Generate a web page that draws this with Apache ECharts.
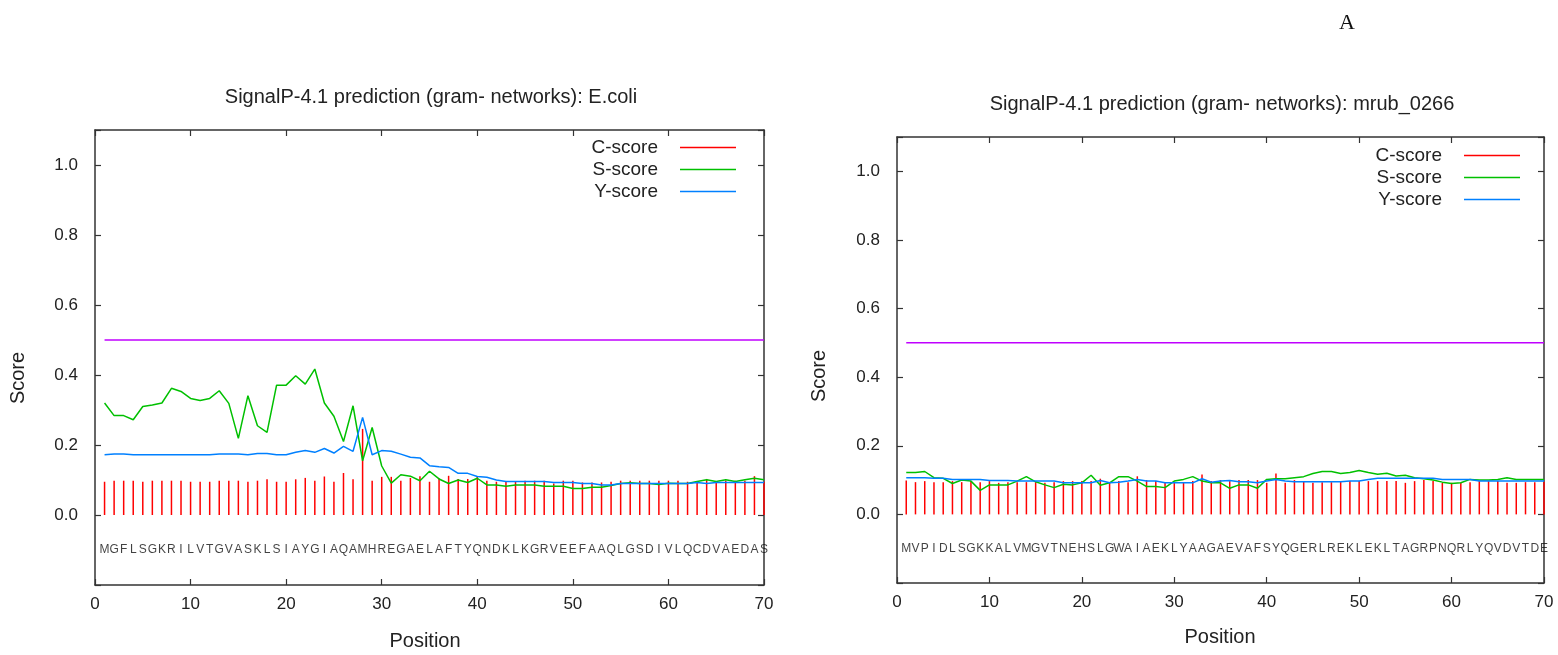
<!DOCTYPE html>
<html>
<head>
<meta charset="utf-8">
<script src="https://cdn.jsdelivr.net/npm/echarts@6/dist/echarts.min.js"></script>
<style>
  html, body { margin: 0; padding: 0; background: #fff; }
  #chart { width: 1558px; height: 655px; }
</style>
</head>
<body>
<div id="chart"></div>
<script>
// sequences (one residue per position 1..70)
var ecoliSeq = 'MGFLSGKRILVTGVASKLSIAYGIAQAMHREGAELAFTYQNDKLKGRVEEFAAQLGSDIVLQCDVAEDAS'.split('')
var mrubSeq = 'MVPIDLSGKKALVMGVTNEHSLGWAIAEKLYAAGAEVAFSYQGERLREKLEKLTAGRPNQRLYQVDVTDE'.split('')

// E.coli scores
var ecoliC = [
  0.095, 0.098, 0.098, 0.098, 0.095, 0.098, 0.098, 0.098, 0.098, 0.095,
  0.095, 0.095, 0.098, 0.098, 0.098, 0.095, 0.098, 0.102, 0.095, 0.095,
  0.102, 0.106, 0.098, 0.110, 0.095, 0.120, 0.102, 0.246, 0.098, 0.109,
  0.109, 0.098, 0.106, 0.111, 0.095, 0.105, 0.112, 0.103, 0.103, 0.109,
  0.098, 0.095, 0.095, 0.096, 0.098, 0.098, 0.098, 0.090, 0.098, 0.098,
  0.093, 0.093, 0.093, 0.095, 0.098, 0.098, 0.098, 0.098, 0.098, 0.098,
  0.098, 0.095, 0.095, 0.103, 0.095, 0.098, 0.098, 0.098, 0.111, 0.095
]
var ecoliS = [
  0.320, 0.284, 0.284, 0.272, 0.310, 0.314, 0.320, 0.362, 0.353, 0.333,
  0.327, 0.333, 0.355, 0.319, 0.219, 0.341, 0.255, 0.236, 0.371, 0.371,
  0.398, 0.374, 0.417, 0.320, 0.282, 0.210, 0.312, 0.155, 0.250, 0.140,
  0.091, 0.115, 0.111, 0.098, 0.125, 0.103, 0.090, 0.100, 0.093, 0.105,
  0.086, 0.086, 0.082, 0.086, 0.086, 0.086, 0.082, 0.082, 0.082, 0.076,
  0.076, 0.079, 0.079, 0.084, 0.090, 0.092, 0.090, 0.090, 0.087, 0.091,
  0.090, 0.090, 0.096, 0.101, 0.096, 0.101, 0.096, 0.101, 0.105, 0.101
]
var ecoliY = [
  0.172, 0.174, 0.174, 0.172, 0.172, 0.172, 0.172, 0.172, 0.172, 0.172,
  0.172, 0.172, 0.174, 0.174, 0.174, 0.172, 0.176, 0.176, 0.172, 0.172,
  0.179, 0.184, 0.179, 0.190, 0.177, 0.196, 0.182, 0.279, 0.172, 0.184,
  0.182, 0.174, 0.165, 0.163, 0.141, 0.138, 0.136, 0.119, 0.119, 0.110,
  0.108, 0.100, 0.096, 0.096, 0.096, 0.096, 0.096, 0.093, 0.093, 0.093,
  0.090, 0.090, 0.086, 0.086, 0.090, 0.090, 0.090, 0.090, 0.090, 0.090,
  0.090, 0.090, 0.093, 0.090, 0.093, 0.093, 0.093, 0.093, 0.093, 0.093
]

// mrub_0266 scores
var mrubC = [
  0.099, 0.094, 0.097, 0.094, 0.094, 0.097, 0.094, 0.097, 0.094, 0.097,
  0.092, 0.094, 0.094, 0.094, 0.094, 0.092, 0.094, 0.097, 0.097, 0.097,
  0.097, 0.104, 0.092, 0.097, 0.094, 0.111, 0.100, 0.097, 0.094, 0.094,
  0.094, 0.097, 0.116, 0.097, 0.100, 0.097, 0.100, 0.100, 0.100, 0.092,
  0.119, 0.092, 0.100, 0.097, 0.092, 0.094, 0.094, 0.097, 0.097, 0.097,
  0.097, 0.097, 0.097, 0.097, 0.092, 0.097, 0.100, 0.097, 0.092, 0.092,
  0.092, 0.094, 0.097, 0.097, 0.097, 0.092, 0.092, 0.094, 0.094, 0.095
]
var mrubS = [
  0.122, 0.122, 0.125, 0.107, 0.105, 0.090, 0.100, 0.097, 0.070, 0.086,
  0.086, 0.086, 0.097, 0.110, 0.095, 0.086, 0.078, 0.088, 0.086, 0.092,
  0.114, 0.085, 0.092, 0.110, 0.110, 0.097, 0.081, 0.081, 0.078, 0.097,
  0.102, 0.110, 0.097, 0.092, 0.092, 0.076, 0.086, 0.086, 0.076, 0.102,
  0.104, 0.104, 0.107, 0.110, 0.119, 0.125, 0.125, 0.119, 0.122, 0.128,
  0.122, 0.117, 0.120, 0.112, 0.114, 0.107, 0.104, 0.100, 0.094, 0.090,
  0.092, 0.102, 0.100, 0.100, 0.102, 0.107, 0.102, 0.102, 0.102, 0.102
]
var mrubY = [
  0.107, 0.107, 0.107, 0.105, 0.105, 0.102, 0.102, 0.102, 0.102, 0.099,
  0.099, 0.099, 0.097, 0.097, 0.097, 0.097, 0.097, 0.092, 0.092, 0.092,
  0.092, 0.099, 0.092, 0.094, 0.097, 0.102, 0.097, 0.097, 0.092, 0.092,
  0.092, 0.092, 0.104, 0.094, 0.097, 0.099, 0.095, 0.095, 0.092, 0.097,
  0.102, 0.097, 0.095, 0.095, 0.095, 0.095, 0.095, 0.095, 0.097, 0.097,
  0.102, 0.105, 0.105, 0.105, 0.105, 0.105, 0.105, 0.105, 0.102, 0.102,
  0.102, 0.102, 0.097, 0.097, 0.097, 0.097, 0.097, 0.097, 0.097, 0.097
]

var cutoff = 0.5
var seqY = -0.1
var titles = [
  'SignalP-4.1 prediction (gram- networks): E.coli',
  'SignalP-4.1 prediction (gram- networks): mrub_0266'
]

var FONT = '"Liberation Sans", Arial, sans-serif'
var RED = '#ff0000', GREEN = '#00c000', BLUE = '#0080ff', VIOLET = '#c000ff'

function pts(arr) {
  return arr.map(function (v, i) { return [i + 1, v] })
}

function xAxes(gi) {
  var base = {
    gridIndex: gi, type: 'value', min: 0, max: 70, interval: 10,
    axisLine: { show: true, onZero: false, lineStyle: { color: '#333', width: 1.5 } },
    axisTick: { show: true, inside: true, length: 6, lineStyle: { color: '#333', width: 1.2 } },
    splitLine: { show: false }
  }
  return [
    Object.assign({}, base, {
      position: 'bottom',
      axisLabel: { show: true, margin: 11, fontSize: 17, color: '#222', fontFamily: FONT }
    }),
    Object.assign({}, base, { position: 'top', axisLabel: { show: false } })
  ]
}

function yAxes(gi) {
  var base = {
    gridIndex: gi, type: 'value', min: -0.2, max: 1.1, interval: 0.2,
    axisLine: { show: true, onZero: false, lineStyle: { color: '#333', width: 1.5 } },
    axisTick: { show: true, inside: true, length: 6, lineStyle: { color: '#333', width: 1.2 } },
    splitLine: { show: false }
  }
  return [
    Object.assign({}, base, {
      position: 'left',
      axisLabel: {
        show: true, margin: 17, fontSize: 17, color: '#222', fontFamily: FONT,
        showMinLabel: true, showMaxLabel: true,
        formatter: function (v) { return (v > -0.01 && v < 1.01) ? v.toFixed(1) : '' }
      }
    }),
    Object.assign({}, base, { position: 'right', axisLabel: { show: false } })
  ]
}

function panelSeries(gi, seq, c, s, y) {
  var xi = gi * 2, yi = gi * 2
  return [
    {
      name: 'C-score', type: 'custom', xAxisIndex: xi, yAxisIndex: yi,
      itemStyle: { color: RED }, silent: true, z: 3,
      data: pts(c),
      renderItem: function (params, api) {
        var p0 = api.coord([api.value(0), 0])
        var p1 = api.coord([api.value(0), api.value(1)])
        return {
          type: 'line',
          shape: { x1: p0[0], y1: p0[1], x2: p1[0], y2: p1[1] },
          style: { stroke: RED, lineWidth: 1.5 }
        }
      }
    },
    {
      name: 'S-score', type: 'line', xAxisIndex: xi, yAxisIndex: yi,
      data: pts(s), showSymbol: false, symbol: 'none', silent: true, z: 4,
      itemStyle: { color: GREEN }, lineStyle: { color: GREEN, width: 1.5 },
      animation: false
    },
    {
      name: 'Y-score', type: 'line', xAxisIndex: xi, yAxisIndex: yi,
      data: pts(y), showSymbol: false, symbol: 'none', silent: true, z: 5,
      itemStyle: { color: BLUE }, lineStyle: { color: BLUE, width: 1.5 },
      animation: false
    },
    {
      name: 'cutoff', type: 'line', xAxisIndex: xi, yAxisIndex: yi,
      data: [[1, cutoff], [70, cutoff]], showSymbol: false, symbol: 'none', silent: true,
      lineStyle: { color: VIOLET, width: 1.5 }, animation: false
    },
    {
      name: 'sequence', type: 'scatter', xAxisIndex: xi, yAxisIndex: yi,
      data: seq.map(function (aa, i) { return [i + 1, seqY, aa] }),
      symbolSize: 0, silent: true,
      label: {
        show: true, position: 'inside', fontSize: 12, color: '#111', fontFamily: FONT,
        formatter: function (p) { return p.data[2] }
      }
    }
  ]
}

function legendFor(right, top) {
  return {
    data: ['C-score', 'S-score', 'Y-score'],
    orient: 'vertical', align: 'right', right: right, top: top,
    icon: 'rect', itemWidth: 56, itemHeight: 1.5, itemGap: 3,
    selectedMode: false,
    textStyle: { fontSize: 19, color: '#222', fontFamily: FONT, padding: [0, 17, 0, 0] }
  }
}

var chart = echarts.init(document.getElementById('chart'), null, { renderer: 'canvas' })

chart.setOption({
  animation: false,
  backgroundColor: '#fff',
  title: [
    { text: titles[0], left: 426, top: 82, textAlign: 'center',
      textStyle: { fontSize: 20, fontWeight: 'normal', color: '#222', fontFamily: FONT } },
    { text: titles[1], left: 1217, top: 89, textAlign: 'center',
      textStyle: { fontSize: 20, fontWeight: 'normal', color: '#222', fontFamily: FONT } }
  ],
  legend: [legendFor(817, 133), legendFor(33, 141)],
  grid: [
    { left: 95, top: 130, width: 669, height: 455, outerBoundsMode: 'none' },
    { left: 897, top: 137, width: 647, height: 446, outerBoundsMode: 'none' }
  ],
  xAxis: xAxes(0).concat(xAxes(1)),
  yAxis: yAxes(0).concat(yAxes(1)),
  series: panelSeries(0, ecoliSeq, ecoliC, ecoliS, ecoliY)
    .concat(panelSeries(1, mrubSeq, mrubC, mrubS, mrubY)),
  graphic: [
    { type: 'text', x: 1347, y: 23, style: { text: 'A', font: '22px "Liberation Serif", serif', fill: '#111', align: 'center', verticalAlign: 'middle' } },
    { type: 'text', x: 18, y: 378, rotation: Math.PI / 2, style: { text: 'Score', font: '20px "Liberation Sans", Arial, sans-serif', fill: '#222', align: 'center', verticalAlign: 'middle' } },
    { type: 'text', x: 819, y: 376, rotation: Math.PI / 2, style: { text: 'Score', font: '20px "Liberation Sans", Arial, sans-serif', fill: '#222', align: 'center', verticalAlign: 'middle' } },
    { type: 'text', x: 425, y: 641, style: { text: 'Position', font: '20px "Liberation Sans", Arial, sans-serif', fill: '#222', align: 'center', verticalAlign: 'middle' } },
    { type: 'text', x: 1220, y: 637, style: { text: 'Position', font: '20px "Liberation Sans", Arial, sans-serif', fill: '#222', align: 'center', verticalAlign: 'middle' } }
  ]
})
</script>
</body>
</html>
